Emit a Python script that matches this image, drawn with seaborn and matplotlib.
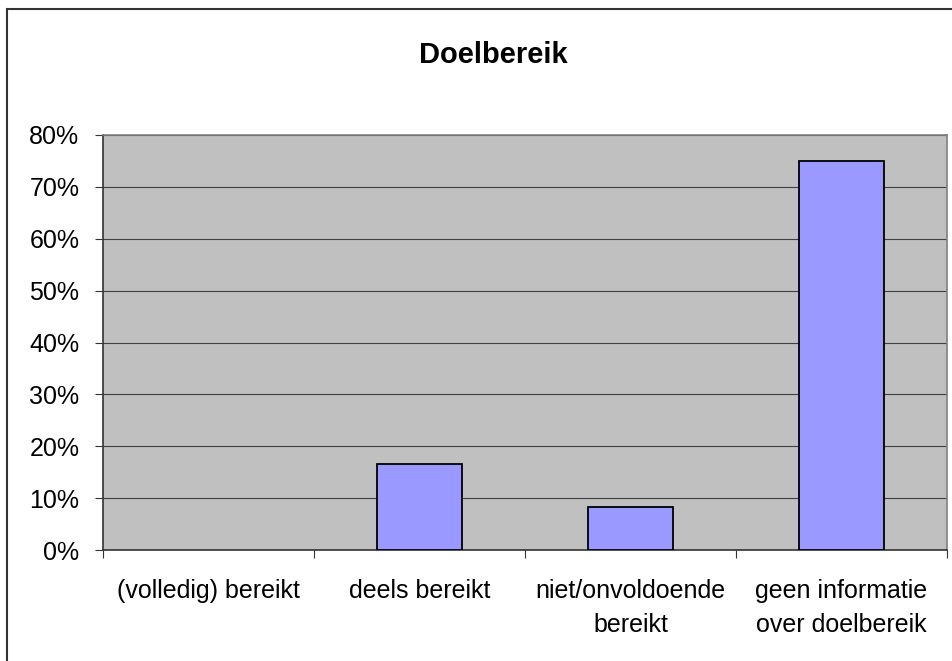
"""
Doelbereik bar chart, recreated with seaborn.
"""
import matplotlib
matplotlib.use('Agg')
import matplotlib.pyplot as plt
import pandas as pd
import seaborn as sns
from matplotlib.patches import Rectangle
from matplotlib.ticker import PercentFormatter

categories = ['(volledig) bereikt', 'deels bereikt',
              'niet/onvoldoende\nbereikt',
              'geen informatie\nover doelbereik']
shares = [0.0, 16.67, 8.33, 75.0]
y_ticks = [0, 10, 20, 30, 40, 50, 60, 70, 80]


def main():
    sns.set_style('white')
    plt.rcParams['font.family'] = ['Liberation Sans', 'DejaVu Sans']
    plt.rcParams['text.color'] = 'black'
    plt.rcParams['xtick.color'] = 'black'
    plt.rcParams['ytick.color'] = 'black'

    df = pd.DataFrame({'categorie': categories, 'aandeel': shares})

    fig = plt.figure(figsize=(9.53, 6.61), dpi=100)
    ax = fig.add_axes([103 / 953, 1 - 550 / 661, 844 / 953, 415 / 661])

    sns.barplot(data=df, x='categorie', y='aandeel', color='#9999FF',
                saturation=1, width=0.4, edgecolor='black', linewidth=1.3,
                ax=ax, zorder=3)
    # an empty bar shows no outline
    for bar in ax.patches:
        if bar.get_height() == 0:
            bar.set_linewidth(0)

    ax.set_facecolor('#C0C0C0')
    ax.set_xlim(-0.5, 3.5)
    ax.set_ylim(0, 80)
    ax.set_yticks(y_ticks)
    ax.yaxis.set_major_formatter(PercentFormatter(decimals=0))
    ax.grid(axis='y', color='#404040', linewidth=0.8, zorder=1)
    ax.set_axisbelow(True)

    # category labels centred, tick marks at the boundaries
    ax.set_xticks(range(len(categories)))
    ax.set_xticklabels(categories, linespacing=1.5)
    ax.set_xticks([i - 0.5 for i in range(len(categories) + 1)], minor=True)
    ax.tick_params(axis='x', which='major', length=0, pad=21, labelsize=18)
    ax.tick_params(axis='x', which='minor', length=6, width=0.8,
                   color='#333333', direction='out', bottom=True)
    ax.tick_params(axis='y', length=6, width=0.8, color='#333333',
                   direction='out', left=True, pad=11, labelsize=18)
    ax.set_xlabel('')
    ax.set_ylabel('')

    for side in ['top', 'right']:
        ax.spines[side].set_color('#808080')
        ax.spines[side].set_linewidth(1.2)
    for side in ['left', 'bottom']:
        ax.spines[side].set_color('#333333')
        ax.spines[side].set_linewidth(1.2)

    fig.text(493 / 953, 1 - 55 / 661, 'Doelbereik', ha='center',
             va='center', fontsize=21, fontweight='bold')

    # outer chart frame
    fig.patches.append(Rectangle((7 / 953, -0.05), 1.05, 1 - 9 / 661 + 0.05,
                                 transform=fig.transFigure, fill=False,
                                 edgecolor='#333333', linewidth=1.5))

    fig.savefig('out.png', dpi=100)


if __name__ == '__main__':
    main()
